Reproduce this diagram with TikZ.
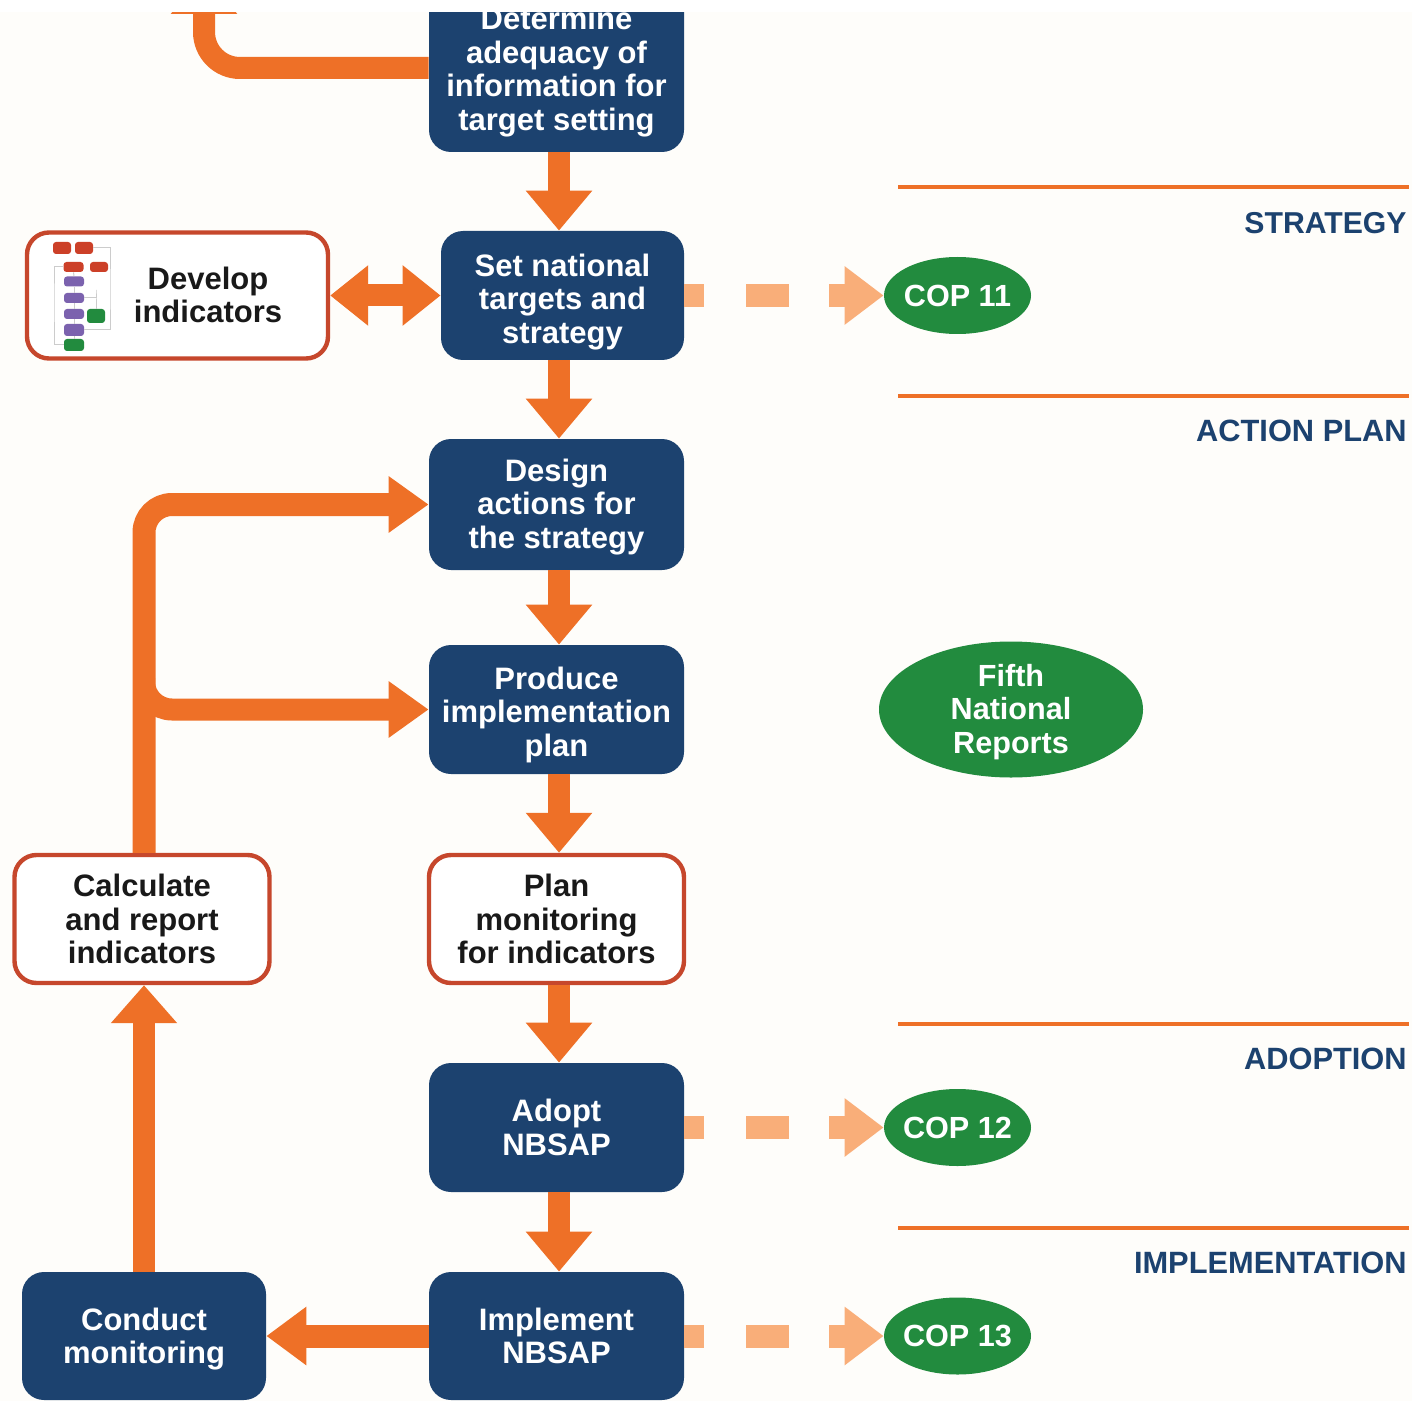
\documentclass[tikz,border=0pt]{standalone}
\usepackage{fontspec}
\setmainfont{Liberation Sans}
\usepackage{xcolor}
\usetikzlibrary{positioning}
\usetikzlibrary{arrows.meta,shapes}
\definecolor{navy}{HTML}{1C426F}
\definecolor{flow}{HTML}{EE7027}
\definecolor{paleflow}{HTML}{F9AE79}
\definecolor{brick}{HTML}{C6472C}
\definecolor{copgreen}{HTML}{228B3E}
\definecolor{minipurple}{HTML}{7B62AE}
\definecolor{paper}{HTML}{FEFDFA}
\newcommand{\droptext}[1]{\rule{0pt}{\dimexpr 11.3pt+#1\relax}}
\tikzset{
  basebox/.style={rectangle,rounded corners=11pt,inner sep=0pt,align=center,
    font=\fontsize{15.5}{16.75}\selectfont\bfseries,minimum width=127.5pt,minimum height=64.5pt},
  navybox/.style={basebox,fill=navy,text=white},
  linebox/.style={basebox,draw=brick,line width=2.2pt,fill=white,text=black!90},
  cop/.style={ellipse,fill=copgreen,text=white,inner sep=-5pt,minimum width=73.5pt,minimum height=38.5pt,
    align=center,font=\fontsize{15.3}{16.75}\selectfont\bfseries},
  stage/.style={anchor=east,inner sep=0pt,text=navy,font=\fontsize{15.4}{18}\selectfont\bfseries},
  rule/.style={draw=flow,line width=2pt},
  flowline/.style={draw=flow,line width=11pt,-{Triangle[length=20pt,width=32pt]}},
  sideline/.style={draw=flow,line width=11.5pt,rounded corners=14pt,-{Triangle[length=20pt,width=27pt]}},
  reportline/.style={draw=paleflow,line width=11.5pt,dash pattern=on 10pt off 21pt on 21.5pt off 20pt on 60pt,
    -{Triangle[length=19.5pt,width=28pt]}},
  mini/.style={rectangle,rounded corners=1.5pt,inner sep=0pt,minimum width=10pt,minimum height=5pt},
  minired/.style={mini,fill=brick!90!red},
  minipur/.style={mini,fill=minipurple},
  minigrn/.style={mini,fill=copgreen},
  minilink/.style={draw=black!20,line width=0.5pt}
}
\begin{document}
\begin{tikzpicture}[x=0.5pt,y=-0.5pt,node distance=100pt,on grid]
  \useasboundingbox (0,0) rectangle (1412,1401);
  \fill[paper] (0,0) rectangle (1412,1401);
  % main column
  \node[navybox,minimum height=86pt] (det) at (556.5,66) {\droptext{6pt}Determine\\adequacy of\\information for\\target setting};
  \node[navybox,minimum width=121.5pt] (set) [below=114.75pt of det,xshift=3pt] {\droptext{6pt}Set national\\targets and\\strategy};
  \node[navybox,minimum height=65.5pt] (design) [below=104.5pt of set,xshift=-3pt] {\droptext{2pt}Design\\actions for\\the strategy};
  \node[navybox] (produce) [below=102.5pt of design] {\droptext{5pt}Produce\\implementation\\plan};
  \node[linebox,minimum height=64pt] (plan) [below=104.75pt of produce] {Plan\\monitoring\\for indicators};
  \node[navybox] (adopt) [below=104.25pt of plan] {Adopt\\NBSAP};
  \node[navybox,minimum height=64pt] (impl) [below=104.25pt of adopt] {Implement\\NBSAP};
  % left column
  \node[navybox,minimum width=122pt,minimum height=64pt] (conduct) [left=206.25pt of impl] {\droptext{3pt}Conduct\\monitoring};
  \node[linebox,minimum height=64pt] (calc) [above=208.5pt of conduct,xshift=-1pt] {Calculate\\and report\\indicators};
  \node[linebox,minimum width=150.5pt,minimum height=63pt] (develop) [left=192.5pt of set] {};
  \node[font=\fontsize{15.5}{16.75}\selectfont\bfseries,align=center,text=black!90,inner sep=0pt] (devtext) at (208,295) {Develop\\indicators};
  % reports
  \node[cop] (cop11) [right=197.5pt of set] {COP 11};
  \node[cop,minimum width=132pt,minimum height=68pt] (fifth) [right=227.25pt of produce] {\droptext{2pt}Fifth\\National\\Reports};
  \node[cop] (cop12) [right=200.5pt of adopt] {COP 12};
  \node[cop] (cop13) [right=200.5pt of impl] {COP 13};
  % stages
  \coordinate (spine) at (559,0);
  \coordinate (ruleA) at (898,187.5);   \coordinate (ruleAend) at (1409,187.5);
  \coordinate (ruleB) at (898,396);     \coordinate (ruleBend) at (1409,396);
  \coordinate (ruleC) at (898,1024);    \coordinate (ruleCend) at (1409,1024);
  \coordinate (ruleD) at (898,1228);    \coordinate (ruleDend) at (1409,1228);
  \draw[rule] (ruleA) -- (ruleAend);
  \draw[rule] (ruleB) -- (ruleBend);
  \draw[rule] (ruleC) -- (ruleCend);
  \draw[rule] (ruleD) -- (ruleDend);
  \node[stage,font=\fontsize{15.1}{18}\selectfont\bfseries] (strategy) at (1407,223) {STRATEGY};
  \node[stage] (action) at (1407,431) {ACTION PLAN};
  \node[stage] (adoption) at (1407,1059) {ADOPTION};
  \node[stage] (implementation) at (1407,1263) {IMPLEMENTATION};
  % flow down the column
  \draw[flowline] (det.south -| spine) -- (set.north -| spine);
  \draw[flowline] (set.south -| spine) -- (design.north -| spine);
  \draw[flowline] (design.south -| spine) -- (produce.north -| spine);
  \draw[flowline] (produce.south -| spine) -- (plan.north -| spine);
  \draw[flowline] (plan.south -| spine) -- (adopt.north -| spine);
  \draw[flowline] (adopt.south -| spine) -- (impl.north -| spine);
  % loop back
  \coordinate (riser) at (144,0);
  \coordinate (branch) at (144,678);
  \coordinate (exit) at (204,-26);
  \draw[flowline,-{Triangle[length=19pt,width=32pt]}] (conduct.north -| riser) -- (calc.south -| riser);
  \draw[sideline] (calc.north -| riser) |- (design.west);
  \draw[sideline,line width=11pt] (branch) |- (produce.west);
  \draw[sideline,-{Triangle[length=20pt,width=28pt]}] (impl.west) -- (conduct.east);
  \draw[draw=flow,line width=11pt,rounded corners=18pt,-{Triangle[length=20pt,width=32pt]}] ([yshift=-1pt]det.west) -| (exit);
  \draw[draw=flow,line width=11pt,{Triangle[length=19pt,width=29pt]}-{Triangle[length=19pt,width=29pt]}] (develop.east) -- (set.west);
  % dashed links to the reports
  \draw[reportline] (set.east) -- (cop11.west);
  \draw[reportline] (adopt.east) -- (cop12.west);
  \draw[reportline] (impl.east) -- (cop13.west);
  % small flow chart in the develop box
  \node[minired,minimum width=9pt,minimum height=6pt] (m1) at (62,248) {};
  \node[minired,minimum width=9pt,minimum height=6pt] (m2) at (84,248) {};
  \node[minired] (m3) at (73.5,267) {};
  \node[minired,minimum width=9pt] (m4) at (99,267) {};
  \node[minipur] (m5) at (74,281.5) {};
  \node[minipur] (m6) at (74,298) {};
  \node[minipur] (m7) at (74,314) {};
  \node[minipur,minimum height=6pt] (m8) at (74,330) {};
  \node[minigrn,minimum height=6pt] (m9) at (74,345) {};
  \node[minigrn,minimum width=9pt,minimum height=7pt] (m10) at (96,316) {};
  \coordinate (linkR) at (110,290);
  \coordinate (linkL) at (54,300);
  \coordinate (linkM) at (96,290);
  \draw[minilink] (m2.east) -| (linkR) |- (m8.east);
  \draw[minilink] (m3.west) -| (linkL) |- (m9.west);
  \draw[minilink] (m6.east) -| (linkM) -- (m10.north);
  \draw[minilink] (m3) -- (m5);
  \draw[minilink] (m5) -- (m6);
  \draw[minilink] (m6) -- (m7);
  \draw[minilink] (m7) -- (m8);
  \draw[minilink] (m8) -- (m9);
  % the page is cut at the top
  \fill[white] (0,0) rectangle (1412,12);
\end{tikzpicture}
\end{document}
